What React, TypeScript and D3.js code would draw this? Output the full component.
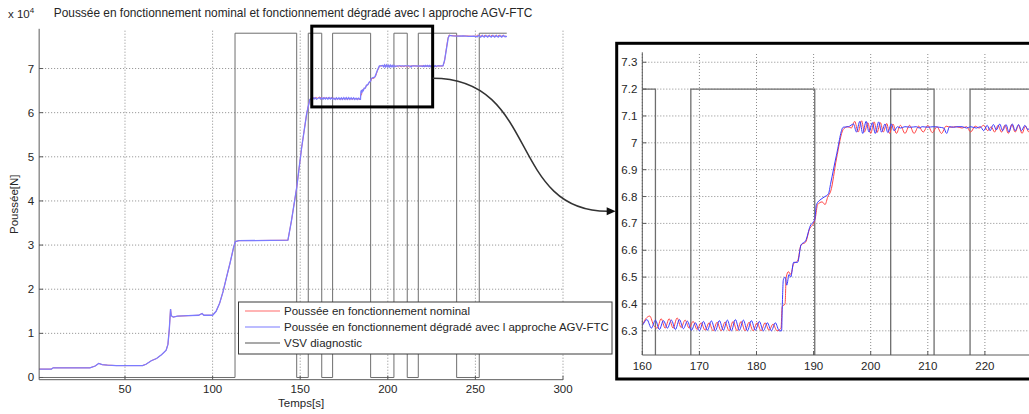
import React from "react";
import * as d3 from "d3";

const W = 1029;
const H = 414;

// ---------- DATA ----------
// shared start of both thrust series (t [s], thrust [x1e4 N])
const rampPoints: [number, number][] = [
  [1, 0.19], [8, 0.19], [9, 0.22], [30, 0.22], [33, 0.26], [35, 0.32], [37, 0.29], [40, 0.28],
  [45, 0.27], [60, 0.27], [62, 0.3], [65, 0.38], [68, 0.43], [71, 0.52], [73.5, 0.62], [74.5, 0.75],
  [75.3, 1.1], [76, 1.55], [76.4, 1.4], [77.5, 1.37], [80, 1.39], [86, 1.4], [92, 1.41], [94, 1.45],
  [95, 1.41], [100, 1.41], [102, 1.5], [104, 1.68], [106, 1.95], [108, 2.28], [110, 2.6], [112, 2.95],
  [113, 3.08], [115, 3.1], [143, 3.11], [145, 3.55], [148, 4.3], [150.8, 5.2], [153.7, 5.98], [155.5, 6.3],
];

// nominal thrust (red), after the ramp
const nominalDetail: [number, number][] = [
  [156.5, 6.32], [157.2, 6.31], [157.9, 6.345], [158.6, 6.31], [159.3, 6.345], [160.0, 6.325],
  [160.6, 6.345], [161.3, 6.355], [162.0, 6.32], [162.6, 6.31], [163.3, 6.345], [164.0, 6.31],
  [164.7, 6.345], [165.4, 6.31], [166.1, 6.348], [166.8, 6.312], [167.5, 6.34], [168.2, 6.31],
  [168.9, 6.335], [169.6, 6.305], [170.3, 6.33], [171.0, 6.302], [171.7, 6.33], [172.4, 6.3],
  [173.1, 6.332], [173.8, 6.3], [174.5, 6.333], [175.2, 6.3], [175.9, 6.335], [176.6, 6.3],
  [177.3, 6.335], [178.0, 6.3], [178.7, 6.332], [179.4, 6.3], [180.1, 6.33], [180.8, 6.3],
  [181.5, 6.33], [182.2, 6.302], [182.9, 6.325], [183.6, 6.3], [184.3, 6.31], [184.5, 6.39],
  [185.0, 6.4], [185.2, 6.5], [185.6, 6.52], [186.0, 6.51], [186.5, 6.55], [187.2, 6.56],
  [187.8, 6.62], [188.6, 6.63], [189.3, 6.68], [190.0, 6.7], [190.3, 6.72], [190.7, 6.77],
  [191.5, 6.78], [192.0, 6.77], [192.5, 6.8], [193.0, 6.82], [194.0, 6.94], [195.2, 7.05],
  [196.0, 7.06], [196.6, 7.055], [197.2, 7.08], [197.8, 7.04], [198.4, 7.082], [198.9, 7.04],
  [199.5, 7.075], [200.0, 7.035], [200.6, 7.078], [201.1, 7.038], [201.7, 7.075], [202.2, 7.04],
  [202.8, 7.072], [203.3, 7.035], [203.9, 7.07], [204.5, 7.035], [205.2, 7.065], [206.0, 7.035],
  [206.8, 7.065], [207.6, 7.035], [208.4, 7.062], [209.2, 7.04], [210.0, 7.065], [210.8, 7.038],
  [211.6, 7.06], [212.4, 7.035], [213.2, 7.062], [214.0, 7.058], [215.0, 7.06], [216.0, 7.055],
  [216.8, 7.06], [217.5, 7.04], [218.3, 7.062], [219.0, 7.055], [219.8, 7.065], [220.5, 7.045],
  [221.1, 7.06], [221.7, 7.04], [222.3, 7.065], [222.9, 7.04], [223.5, 7.065], [224.1, 7.035],
  [224.7, 7.068], [225.3, 7.04], [225.9, 7.065], [226.5, 7.035], [227.1, 7.062], [227.7, 7.04],
  [228.5, 7.06], [230, 7.055], [231.5, 7.06], [232.3, 7.15], [233.3, 7.42], [234.3, 7.68],
  [235.0, 7.76], [236, 7.745], [239, 7.74], [242, 7.735], [245, 7.74], [248, 7.73], [250.5, 7.735],
  [251.5, 7.76], [252.5, 7.72], [253.5, 7.76], [254.5, 7.715], [255.5, 7.76], [256.5, 7.715],
  [257.5, 7.76], [258.5, 7.715], [259.5, 7.76], [260.5, 7.715], [261.5, 7.76], [262.5, 7.715],
  [263.5, 7.76], [264.5, 7.715], [265.5, 7.76], [266.5, 7.72], [267.5, 7.74],
];

// degraded thrust with AGV-FTC (blue), after the ramp
const degradedDetail: [number, number][] = [
  [156.5, 6.32], [157.2, 6.34], [157.9, 6.31], [158.6, 6.34], [159.3, 6.305], [160.0, 6.32],
  [160.8, 6.342], [161.6, 6.31], [162.3, 6.34], [163.0, 6.305], [163.7, 6.338], [164.4, 6.31],
  [165.1, 6.34], [165.8, 6.305], [166.5, 6.342], [167.2, 6.308], [167.9, 6.336], [168.6, 6.302],
  [169.3, 6.33], [170.0, 6.3], [170.7, 6.335], [171.4, 6.302], [172.1, 6.337], [172.8, 6.3],
  [173.5, 6.338], [174.2, 6.302], [174.9, 6.34], [175.6, 6.3], [176.3, 6.342], [177.0, 6.302],
  [177.7, 6.34], [178.4, 6.3], [179.1, 6.338], [179.8, 6.302], [180.5, 6.335], [181.2, 6.3],
  [181.9, 6.33], [182.6, 6.3], [183.3, 6.33], [184.0, 6.3], [184.4, 6.3], [184.5, 6.38],
  [184.7, 6.49], [185.0, 6.5], [185.3, 6.47], [185.7, 6.51], [186.0, 6.5], [186.5, 6.555],
  [187.2, 6.555], [187.8, 6.62], [188.6, 6.635], [189.4, 6.69], [190.2, 6.715], [190.5, 6.77],
  [191.3, 6.79], [192.0, 6.8], [192.6, 6.81], [193.0, 6.85], [194.0, 6.954], [195.2, 7.058],
  [196.1, 7.06], [197.0, 7.07], [197.5, 7.04], [198.1, 7.08], [198.6, 7.035], [199.2, 7.08],
  [199.7, 7.04], [200.3, 7.075], [200.8, 7.035], [201.4, 7.078], [201.9, 7.04], [202.5, 7.07],
  [203.0, 7.038], [203.6, 7.07], [204.1, 7.045], [204.7, 7.06], [205.2, 7.055], [206, 7.06],
  [207, 7.058], [208, 7.06], [208.5, 7.055], [209, 7.06], [210, 7.058], [211, 7.06], [212, 7.058],
  [212.8, 7.055], [213.3, 7.035], [213.8, 7.06], [214.5, 7.058], [215.3, 7.06], [216, 7.06],
  [216.8, 7.055], [217.5, 7.06], [218.5, 7.055], [219.2, 7.06], [219.8, 7.045], [220.4, 7.065],
  [220.9, 7.045], [221.5, 7.068], [222, 7.048], [222.6, 7.07], [223.1, 7.045], [223.7, 7.068],
  [224.2, 7.04], [224.8, 7.07], [225.3, 7.045], [225.9, 7.068], [226.4, 7.045], [227, 7.065],
  [227.5, 7.05], [228.5, 7.06], [230, 7.058], [231.5, 7.06], [232.5, 7.2], [233.5, 7.45],
  [234.5, 7.7], [235.2, 7.75], [237, 7.74], [240, 7.735], [243, 7.74], [246, 7.73], [249, 7.735],
  [251, 7.72], [252, 7.75], [253, 7.71], [254, 7.75], [255, 7.71], [256, 7.75], [257, 7.71],
  [258, 7.75], [259, 7.71], [260, 7.75], [261, 7.71], [262, 7.75], [263, 7.71], [264, 7.75],
  [265, 7.71], [266, 7.75], [267, 7.72], [268, 7.73],
];

// VSV diagnostic: switching times and state after each time
const vsvT = [1, 112.8, 148, 154.6, 162.3, 168.5, 190.2, 203.5, 211.1, 217.4, 239.3, 252.2, 267.9];
const vsvState = [0, 1, 0, 1, 0, 1, 0, 1, 0, 1, 0, 1, 1];
const vsvHighMain = 7.8;
const vsvHighInset = 7.2;

const mainXTicks = [50, 100, 150, 200, 250, 300];
const mainYTicks = [0, 1, 2, 3, 4, 5, 6, 7];
const insetXTicks = [160, 170, 180, 190, 200, 210, 220];
const insetYTicks = [6.3, 6.4, 6.5, 6.6, 6.7, 6.8, 6.9, 7.0, 7.1, 7.2, 7.3];

const legendLabels = [
  "Poussée en fonctionnement nominal",
  "Poussée en fonctionnement dégradé avec l approche AGV-FTC",
  "VSV diagnostic",
];
const titleText = "Poussée en fonctionnement nominal et fonctionnement dégradé avec l approche AGV-FTC";

// zoom window shown in the inset
const zoomBox = { t0: 156.6, t1: 225.6, v0: 6.13, v1: 7.96 };
const arrowFrom = { t: 225.6, v: 6.78 };
const arrowToV = 6.745;

// ---------- STYLE ----------
const FONT = "'Liberation Sans', Arial, Helvetica, sans-serif";
const FS = 11.5;
const RED_MAIN = "#ff6a6a";
const BLUE_MAIN = "#7b7bff";
const RED_IN = "#ff4545";
const BLUE_IN = "#3a3aff";
const VSV_COL = "#6e6e6e";
const GRID_COL = "#8a8a8a";
const AXIS_COL = "#5a5a5a";
const TEXT_COL = "#262626";

export default function App() {
  // main axes
  const xL = d3.scaleLinear().domain([1, 300]).range([39.15, 563]);
  const yL = d3.scaleLinear().domain([-0.05, 7.9]).range([379.7, 28.8]);
  // inset axes
  const xI = d3.scaleLinear().domain([160, 230]).range([642.3, 1042]);
  const yI = d3.scaleLinear().domain([6.21, 7.337]).range([355, 52.3]);

  const nominal = [...rampPoints, ...nominalDetail];
  const degraded = [...rampPoints, ...degradedDetail];

  const lineMain = d3.line<[number, number]>().x((d) => xL(d[0])).y((d) => yL(d[1]));
  const lineInset = d3
    .line<[number, number]>()
    .x((d) => xI(d[0]))
    .y((d) => yI(d[1]))
    .curve(d3.curveMonotoneX);

  const vsvMain = d3
    .line<number>()
    .x((_, i) => xL(vsvT[i]))
    .y((_, i) => yL(vsvState[i] * vsvHighMain))
    .curve(d3.curveStepAfter);
  const vsvInset = d3
    .line<number>()
    .x((_, i) => xI(vsvT[i]))
    .y((_, i) => yI(vsvState[i] ? vsvHighInset : 0))
    .curve(d3.curveStepAfter);

  const [mx0, mx1] = xL.range();
  const [my0, my1] = yL.range();
  const ix0 = xI.range()[0];
  const ix1 = xI.range()[1];
  const [iy0, iy1] = yI.range();

  // arrow
  const p0: [number, number] = [xL(arrowFrom.t), yL(arrowFrom.v)];
  const frameX = 616.7;
  const p3: [number, number] = [frameX - 9, yI(arrowToV)];
  const p1: [number, number] = [p0[0] + 107, p0[1]];
  const p2: [number, number] = [p3[0] - 100, p3[1]];
  const arrowPath = d3.path();
  arrowPath.moveTo(p0[0], p0[1]);
  arrowPath.bezierCurveTo(p1[0], p1[1], p2[0], p2[1], p3[0], p3[1]);

  return (
    <div style={{ position: "absolute", left: 0, top: 0 }}>
      <svg width={W} height={H} style={{ display: "block", fontFamily: FONT }}>
        <rect x={0} y={0} width={W} height={H} fill="#fff" />
        <defs>
          <clipPath id="clipInset">
            <rect x={ix0} y={iy1} width={ix1 - ix0} height={iy0 - iy1} />
          </clipPath>
        </defs>

        {/* ===== MAIN CHART ===== */}
        <g>
          {mainXTicks.map((t) => (
            <line key={"gx" + t} x1={xL(t)} x2={xL(t)} y1={my0} y2={my1} stroke={GRID_COL}
              strokeWidth={1} strokeDasharray="1,2" />
          ))}
          {mainYTicks.filter((v) => v > 0).map((v) => (
            <line key={"gy" + v} x1={mx0} x2={mx1} y1={yL(v)} y2={yL(v)} stroke={GRID_COL}
              strokeWidth={1} strokeDasharray="1,2" />
          ))}
          <path d={vsvMain(vsvT) || ""} fill="none" stroke={VSV_COL} strokeWidth={1} />
          <path d={lineMain(nominal) || ""} fill="none" stroke={RED_MAIN} strokeWidth={1} />
          <path d={lineMain(degraded) || ""} fill="none" stroke={BLUE_MAIN} strokeWidth={1.3} />

          {/* axes */}
          <line x1={mx0} x2={mx0} y1={my0} y2={my1} stroke={AXIS_COL} strokeWidth={1} />
          <line x1={mx0} x2={mx1} y1={my0} y2={my0} stroke={AXIS_COL} strokeWidth={1} />
          {mainXTicks.map((t) => (
            <g key={"tx" + t}>
              <line x1={xL(t)} x2={xL(t)} y1={my0} y2={my0 - 4} stroke={AXIS_COL} />
              <text x={xL(t)} y={my0 + 13} fontSize={FS} fill={TEXT_COL} textAnchor="middle">{t}</text>
            </g>
          ))}
          {mainYTicks.map((v) => (
            <g key={"ty" + v}>
              <line x1={mx0} x2={mx0 + 4} y1={yL(v)} y2={yL(v)} stroke={AXIS_COL} />
              <text x={mx0 - 5} y={yL(v) + 4} fontSize={FS} fill={TEXT_COL} textAnchor="end">{v}</text>
            </g>
          ))}
          <text x={8} y={18} fontSize={FS} fill={TEXT_COL}>
            x 10<tspan fontSize={8} dy={-5}>4</tspan>
          </text>
          <text x={293} y={17} fontSize={11.9} fill={TEXT_COL} textAnchor="middle">{titleText}</text>
          <text x={(mx0 + mx1) / 2} y={407} fontSize={FS} fill={TEXT_COL} textAnchor="middle">Temps[s]</text>
          <text transform={`translate(18,${(my0 + my1) / 2}) rotate(-90)`} fontSize={FS} fill={TEXT_COL}
            textAnchor="middle">Poussée[N]</text>

          {/* zoom window */}
          <rect x={xL(zoomBox.t0)} y={yL(zoomBox.v1)} width={xL(zoomBox.t1) - xL(zoomBox.t0)}
            height={yL(zoomBox.v0) - yL(zoomBox.v1)} fill="none" stroke="#000" strokeWidth={3} />
        </g>

        {/* legend */}
        <g>
          <rect x={238.5} y={302} width={373.5} height={52} fill="#fff" stroke="#3a3a3a" strokeWidth={1} />
          {legendLabels.map((lab, i) => {
            const yy = 311 + i * 16;
            const col = [RED_MAIN, BLUE_MAIN, "#555"][i];
            return (
              <g key={lab}>
                <line x1={245} x2={280} y1={yy} y2={yy} stroke={col} strokeWidth={1.2} />
                <text x={284} y={yy + 4} fontSize={FS} fill={TEXT_COL}>{lab}</text>
              </g>
            );
          })}
        </g>

        {/* arrow */}
        <path d={arrowPath.toString()} fill="none" stroke="#333" strokeWidth={1.5} />
        <path d={`M${p3[0] - 1},${p3[1] - 4} L${frameX - 1},${p3[1]} L${p3[0] - 1},${p3[1] + 4} Z`} fill="#111" />

        {/* ===== INSET ===== */}
        <g>
          <rect x={frameX} y={43.3} width={W - frameX + 10} height={379 - 43.3} fill="#fff" stroke="#000"
            strokeWidth={3} />
          {insetXTicks.map((t) => (
            <line key={"igx" + t} x1={xI(t)} x2={xI(t)} y1={iy0} y2={iy1} stroke={GRID_COL}
              strokeWidth={1} strokeDasharray="1,2" />
          ))}
          {insetYTicks.map((v) => (
            <line key={"igy" + v} x1={ix0} x2={ix1} y1={yI(v)} y2={yI(v)} stroke={GRID_COL}
              strokeWidth={1} strokeDasharray="1,2" />
          ))}
          <g clipPath="url(#clipInset)">
            <path d={vsvInset(vsvT) || ""} fill="none" stroke={VSV_COL} strokeWidth={1.3} />
            <path d={lineInset(nominalDetail) || ""} fill="none" stroke={RED_IN} strokeWidth={1} />
            <path d={lineInset(degradedDetail) || ""} fill="none" stroke={BLUE_IN} strokeWidth={1} />
          </g>
          <line x1={ix0} x2={ix0} y1={iy0} y2={iy1} stroke={AXIS_COL} strokeWidth={1} />
          <line x1={ix0} x2={ix1} y1={iy0} y2={iy0} stroke={AXIS_COL} strokeWidth={1} />
          {insetXTicks.map((t) => (
            <g key={"itx" + t}>
              <line x1={xI(t)} x2={xI(t)} y1={iy0} y2={iy0 - 4} stroke={AXIS_COL} />
              <text x={xI(t)} y={iy0 + 15} fontSize={FS} fill={TEXT_COL} textAnchor="middle">{t}</text>
            </g>
          ))}
          {insetYTicks.map((v) => (
            <g key={"ity" + v}>
              <line x1={ix0} x2={ix0 + 4} y1={yI(v)} y2={yI(v)} stroke={AXIS_COL} />
              <text x={ix0 - 5} y={yI(v) + 4} fontSize={FS} fill={TEXT_COL} textAnchor="end">
                {d3.format("~g")(v)}
              </text>
            </g>
          ))}
        </g>
      </svg>
    </div>
  );
}
